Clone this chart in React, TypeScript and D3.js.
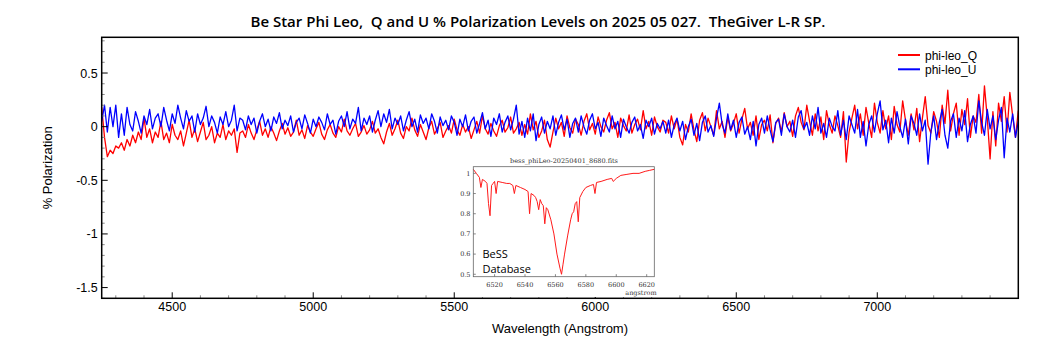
import { useRef, useEffect } from 'react';
import * as d3 from 'd3';

// wavelength grid of the polarization data (Angstrom)
const waveStart = 4250;
const waveStep = 10;

// phi-leo_Q, % polarization, one value per 10 A from 4250
const qValues = [
  0.18, -0.1, -0.28, -0.22, -0.25, -0.18, -0.2, -0.15, -0.22, -0.12, -0.18, -0.08, -0.15, -0.05, -0.12, 0.08, -0.1, -0.02, -0.15, -0.05,
  -0.1, 0.05, -0.12, -0.06, -0.15, 0.02, -0.08, -0.12, -0.04, -0.18, -0.06, 0.06, -0.1, -0.02, -0.14, -0.05, 0.04, -0.12, -0.08, 0.0,
  -0.15, -0.06, -0.1, 0.02, -0.12, -0.04, -0.08, -0.02, -0.24, -0.06,
  -0.04, -0.1, 0.02, -0.06, -0.12, -0.03, 0.05, -0.08, -0.02, -0.1, 0.0, -0.06, -0.13, -0.04, 0.03, -0.07, -0.01, -0.09, -0.05, 0.06,
  -0.08, -0.03, -0.11, 0.01, -0.05, -0.09, -0.02, 0.04, -0.07, -0.12, -0.03, 0.02, -0.06, -0.1, 0.0, -0.05, 0.07, -0.04, -0.08, -0.02,
  0.03, -0.09, -0.05, 0.01, -0.07, -0.03, 0.05, -0.06, -0.02, -0.1,
  -0.16, -0.05, 0.03, -0.08, -0.02, 0.06, -0.06, -0.11, 0.0, -0.04, 0.08, -0.03, -0.09, 0.02, -0.05, -0.12, -0.01, 0.05, -0.07, -0.02,
  0.04, -0.1, -0.04, 0.01, -0.06, 0.07, -0.03, -0.08, 0.02, -0.05, 0.0, -0.11, -0.03, 0.05, -0.06, 0.1, -0.02, -0.07, 0.03, -0.04,
  -0.09, 0.01, 0.06, -0.05, -0.01, 0.09, -0.06, -0.02, 0.04, -0.08,
  0.02, -0.07, 0.12, -0.03, 0.05, -0.1, -0.04, 0.06, -0.12, -0.19, -0.05, 0.08, -0.02, 0.04, -0.09, 0.1, -0.01, -0.06, 0.07, 0.02,
  -0.08, 0.05, 0.12, -0.03, 0.03, -0.07, 0.09, 0.0, -0.05, 0.06, 0.13, -0.02, 0.04, -0.1, 0.08, 0.01, -0.04, 0.11, -0.06, 0.02,
  0.07, -0.03, 0.15, -0.02, 0.05, -0.08, 0.09, 0.0, -0.05, 0.06,
  0.04, -0.06, 0.1, -0.02, 0.07, -0.1, -0.17, 0.02, -0.05, 0.12, -0.03, -0.14, 0.06, 0.13, -0.04, 0.08, 0.0, -0.08, 0.15, -0.02,
  0.05, -0.1, 0.09, -0.04, 0.03, 0.12, -0.06, 0.07, 0.17, -0.02, 0.04, -0.08, 0.1, -0.12, 0.02, 0.06, -0.04, 0.11, -0.15, 0.03,
  0.08, -0.05, 0.13, 0.0, 0.05, -0.09, 0.1, 0.18, 0.04, -0.03,
  0.2, 0.05, -0.08, 0.12, -0.04, 0.09, -0.12, 0.15, 0.02, -0.06, 0.1, 0.01, -0.1, 0.14, -0.33, -0.05, 0.08, 0.2, -0.02, 0.12,
  -0.08, 0.18, 0.03, -0.1, 0.22, 0.04, -0.06, 0.15, -0.02, 0.1, -0.12, 0.19, 0.02, -0.05, 0.24, 0.06, -0.08, 0.12, -0.03, 0.17,
  -0.14, 0.08, 0.28, 0.01, -0.06, 0.14, 0.05, -0.1, 0.2, 0.03,
  0.34, -0.04, 0.12, 0.22, -0.08, 0.16, 0.02, 0.26, -0.1, 0.1, 0.04, 0.3, -0.06, 0.38, 0.08, -0.3, 0.14, -0.18, 0.22, 0.05,
  0.28, -0.05, 0.32, 0.1, -0.1, 0.15,
];

// phi-leo_U, % polarization, same grid
const uValues = [
  0.05, 0.2, -0.05, 0.18, 0.0, 0.2, -0.1, 0.12, -0.08, 0.18, 0.02, -0.04, 0.14, 0.05, -0.06, 0.1, 0.02, 0.16, -0.02, 0.08,
  0.12, 0.0, 0.18, 0.06, -0.04, 0.12, 0.03, 0.2, 0.08, -0.02, 0.15, 0.05, 0.1, -0.05, 0.12, 0.02, 0.08, 0.19, 0.0, 0.1,
  0.04, -0.06, 0.09, 0.02, 0.14, 0.0, 0.06, 0.2, -0.04, 0.08,
  0.06, -0.03, 0.1, 0.02, 0.08, -0.06, 0.05, 0.12, 0.0, 0.07, -0.04, 0.09, 0.03, 0.13, -0.02, 0.06, 0.01, 0.1, -0.05, 0.04,
  0.08, -0.02, 0.11, 0.03, -0.06, 0.07, 0.0, 0.09, 0.04, -0.03, 0.12, 0.02, 0.06, -0.07, 0.05, 0.1, 0.0, 0.14, -0.02, 0.07,
  0.03, 0.18, -0.04, 0.08, 0.02, 0.1, -0.05, 0.06, 0.15, 0.0,
  0.12, 0.04, 0.16, -0.02, 0.08, 0.02, 0.1, -0.04, 0.06, 0.14, 0.0, 0.07, -0.05, 0.11, 0.03, 0.08, -0.02, 0.12, 0.05, -0.06,
  0.09, 0.01, 0.06, -0.03, 0.1, 0.04, -0.08, 0.07, 0.0, 0.11, -0.04, 0.05, 0.09, -0.06, 0.03, 0.13, -0.02, 0.06, -0.09, 0.08,
  0.02, 0.12, -0.05, 0.04, 0.1, -0.03, 0.07, 0.2, -0.07, 0.05,
  -0.1, 0.08, -0.04, 0.12, -0.13, 0.02, 0.09, -0.06, 0.05, -0.02, 0.1, -0.08, 0.04, 0.11, -0.03, 0.07, -0.1, 0.03, 0.08, -0.05,
  0.1, 0.0, -0.07, 0.06, 0.12, -0.02, 0.04, -0.09, 0.08, 0.01, -0.05, 0.1, -0.02, 0.05, -0.1, 0.07, 0.0, -0.06, 0.04, 0.09,
  -0.04, 0.02, -0.11, 0.06, 0.0, 0.08, -0.07, 0.03, -0.02, 0.05,
  -0.06, 0.06, -0.1, 0.02, 0.08, -0.04, 0.05, -0.12, 0.0, 0.07, -0.08, 0.03, -0.13, 0.04, 0.1, -0.05, 0.01, -0.09, 0.08, 0.22,
  0.02, -0.06, 0.12, -0.03, 0.06, -0.1, 0.04, 0.09, -0.07, 0.0, -0.12, 0.05, -0.18, 0.02, 0.08, -0.06, 0.1, -0.03, -0.14, 0.04,
  0.07, -0.08, 0.12, 0.0, -0.05, 0.06, -0.1, 0.09, 0.15, -0.02,
  0.04, -0.08, 0.1, -0.02, 0.18, -0.06, 0.03, -0.1, 0.08, 0.0, -0.04, 0.15, -0.08, 0.06, -0.12, 0.1, 0.02, -0.06, 0.16, -0.1,
  0.05, -0.18, 0.02, 0.1, -0.05, 0.12, 0.24, -0.03, 0.06, -0.15, 0.08, -0.06, 0.14, 0.0, -0.1, 0.07, -0.16, 0.1, 0.03, -0.08,
  0.12, -0.04, 0.06, -0.35, -0.05, 0.1, -0.12, 0.04, 0.16, -0.08,
  -0.2, 0.05, 0.12, -0.1, 0.08, -0.04, 0.15, -0.14, 0.02, 0.1, -0.06, 0.24, 0.04, -0.08, 0.16, -0.02, 0.1, -0.12, 0.06, 0.18,
  -0.29, 0.08, -0.05, 0.12, -0.1, 0.05,
];

const xMajorTicks = [4500, 5000, 5500, 6000, 6500, 7000];
const yMajorTicks = [0.5, 0, -0.5, -1, -1.5];

// BeSS inset: H-alpha profile of phi Leo
const insetWave = [
  6506, 6508, 6510, 6511, 6512, 6514, 6515, 6516, 6517, 6518, 6519, 6520, 6521, 6522, 6525, 6528, 6530, 6532, 6533, 6534,
  6537, 6540, 6542, 6543, 6544, 6546, 6547, 6548, 6549, 6550, 6551, 6552, 6553, 6554, 6555, 6557, 6559, 6561, 6563, 6564,
  6565, 6566, 6568, 6570, 6571, 6572, 6573, 6574, 6575, 6576, 6578, 6580, 6583, 6585, 6586, 6587, 6590, 6594, 6597, 6598,
  6600, 6603, 6607, 6611, 6615, 6619, 6622, 6625,
];
const insetFlux = [
  1.02, 1.0, 0.98, 0.93, 0.97, 0.96, 0.95, 0.85, 0.79, 0.94, 0.95, 0.96, 0.9, 0.96, 0.955, 0.95, 0.95, 0.94, 0.9, 0.94,
  0.93, 0.92, 0.91, 0.8, 0.9, 0.89, 0.88, 0.86, 0.82, 0.87, 0.85, 0.84, 0.75, 0.83, 0.82, 0.77, 0.7, 0.6, 0.53, 0.5,
  0.55, 0.6, 0.69, 0.77, 0.8, 0.81, 0.85, 0.86, 0.76, 0.88, 0.91, 0.93, 0.94, 0.945, 0.9, 0.955, 0.96, 0.97, 0.975, 0.96,
  0.975, 0.99, 0.995, 1.0, 1.0, 1.01, 1.015, 1.02,
];
const insetXTicks = [6520, 6540, 6560, 6580, 6600, 6620];
const insetYTicks = [1, 0.9, 0.8, 0.7, 0.6, 0.5];

const W = 1050;
const H = 350;

export default function App() {
  const svgRef = useRef<SVGSVGElement>(null);

  useEffect(() => {
    if (!svgRef.current) return;
    const svg = d3.select(svgRef.current);
    svg.selectAll('*').remove();

    const left = 101.7, right = 1018.3, top = 37.3, bottom = 298.3;
    const x = d3.scaleLinear().domain([4250, 7500]).range([left, right]);
    const y = d3.scaleLinear().domain([-1.6, 0.833]).range([bottom, top]);
    const sans = 'Liberation Sans, Arial, sans-serif';

    svg.append('rect').attr('width', W).attr('height', H).attr('fill', '#fff');

    // title
    svg.append('text')
      .attr('x', 538).attr('y', 26.5)
      .attr('text-anchor', 'middle')
      .attr('font-family', 'Open Sans, sans-serif')
      .attr('font-weight', 600)
      .attr('font-size', '15px')
      .attr('fill', '#000')
      .style('white-space', 'pre')
      .text('Be Star Phi Leo,  Q and U % Polarization Levels on 2025 05 027.  TheGiver L-R SP.');

    const clip = svg.append('clipPath').attr('id', 'plot-clip');
    clip.append('rect').attr('x', left).attr('y', top).attr('width', right - left).attr('height', bottom - top);

    const line = d3.line<number>()
      .x((_, i) => x(waveStart + i * waveStep))
      .y((d) => y(d));

    const plot = svg.append('g').attr('clip-path', 'url(#plot-clip)');
    plot.append('path').datum(qValues).attr('d', line).attr('fill', 'none')
      .attr('stroke', '#ff0000').attr('stroke-width', 1.3).attr('stroke-linejoin', 'round');
    plot.append('path').datum(uValues).attr('d', line).attr('fill', 'none')
      .attr('stroke', '#0000ff').attr('stroke-width', 1.3).attr('stroke-linejoin', 'round');

    // minor / major ticks (inside)
    const xMinor = d3.range(4300, 7500, 100).filter((v) => v % 500 !== 0);
    svg.selectAll('line.xminor').data(xMinor).join('line')
      .attr('x1', (d) => x(d)).attr('x2', (d) => x(d))
      .attr('y1', bottom).attr('y2', bottom - 3)
      .attr('stroke', '#888').attr('stroke-width', 1);
    svg.selectAll('line.xmajor').data(xMajorTicks).join('line')
      .attr('x1', (d) => x(d)).attr('x2', (d) => x(d))
      .attr('y1', bottom).attr('y2', bottom - 6)
      .attr('stroke', '#000').attr('stroke-width', 1);
    const yMinor = d3.range(-16, 9).map((v) => v / 10).filter((v) => Math.abs((v * 10) % 5) > 0.01);
    svg.selectAll('line.yminor').data(yMinor).join('line')
      .attr('x1', left).attr('x2', left + 3)
      .attr('y1', (d) => y(d)).attr('y2', (d) => y(d))
      .attr('stroke', '#888').attr('stroke-width', 1);
    svg.selectAll('line.ymajor').data(yMajorTicks).join('line')
      .attr('x1', left).attr('x2', left + 6)
      .attr('y1', (d) => y(d)).attr('y2', (d) => y(d))
      .attr('stroke', '#000').attr('stroke-width', 1);

    // frame
    svg.append('rect')
      .attr('x', left).attr('y', top).attr('width', right - left).attr('height', bottom - top)
      .attr('fill', 'none').attr('stroke', '#000').attr('stroke-width', 1.5);

    // tick labels
    svg.selectAll('text.xlab').data(xMajorTicks).join('text')
      .attr('x', (d) => x(d)).attr('y', bottom + 13)
      .attr('text-anchor', 'middle')
      .attr('font-family', sans).attr('font-size', '12.5px').attr('fill', '#000')
      .text((d) => String(d));
    svg.selectAll('text.ylab').data(yMajorTicks).join('text')
      .attr('x', left - 4).attr('y', (d) => y(d) + 4.5)
      .attr('text-anchor', 'end')
      .attr('font-family', sans).attr('font-size', '12.5px').attr('fill', '#000')
      .text((d) => String(d));

    // axis titles
    svg.append('text')
      .attr('x', 560).attr('y', 333)
      .attr('text-anchor', 'middle')
      .attr('font-family', sans).attr('font-size', '13px').attr('fill', '#000')
      .text('Wavelength (Angstrom)');
    svg.append('text')
      .attr('transform', `translate(52,${(top + bottom) / 2}) rotate(-90)`)
      .attr('text-anchor', 'middle')
      .attr('font-family', sans).attr('font-size', '13px').attr('fill', '#000')
      .text('% Polarization');

    // legend
    const legend = [
      { name: 'phi-leo_Q', color: '#ff0000' },
      { name: 'phi-leo_U', color: '#0000ff' },
    ];
    const lg = svg.append('g');
    legend.forEach((d, i) => {
      const ly = 55 + i * 14.3;
      lg.append('line').attr('x1', 898).attr('x2', 920).attr('y1', ly).attr('y2', ly)
        .attr('stroke', d.color).attr('stroke-width', 2);
      lg.append('text').attr('x', 925).attr('y', ly + 4.5)
        .attr('font-family', sans).attr('font-size', '12px').attr('fill', '#000')
        .text(d.name);
    });

    // BeSS inset
    const inset = svg.append('g');
    inset.append('rect').attr('x', 460).attr('y', 154).attr('width', 202).attr('height', 143).attr('fill', '#fff');
    const ix = d3.scaleLinear().domain([6506, 6625]).range([473.3, 654.3]);
    const iy = d3.scaleLinear().domain([0.488, 1.033]).range([276.7, 166.7]);
    const serif = 'DejaVu Serif, Liberation Serif, serif';
    inset.append('text').attr('x', 564).attr('y', 162.5).attr('text-anchor', 'middle')
      .attr('font-family', serif).attr('font-size', '6.5px').attr('fill', '#333')
      .text('bess_phiLeo-20250401_8680.fits');
    inset.selectAll('line.ixt').data(insetXTicks).join('line')
      .attr('x1', (d) => ix(d)).attr('x2', (d) => ix(d))
      .attr('y1', 276.7).attr('y2', 274.2).attr('stroke', '#555').attr('stroke-width', 0.7);
    inset.selectAll('line.iyt').data(insetYTicks).join('line')
      .attr('x1', 473.3).attr('x2', 475.8)
      .attr('y1', (d) => iy(d)).attr('y2', (d) => iy(d)).attr('stroke', '#555').attr('stroke-width', 0.7);
    inset.selectAll('text.ixl').data(insetXTicks).join('text')
      .attr('x', (d) => ix(d)).attr('y', 287).attr('text-anchor', 'middle')
      .attr('font-family', serif).attr('font-size', '6.5px').attr('fill', '#333')
      .text((d) => String(d));
    inset.selectAll('text.iyl').data(insetYTicks).join('text')
      .attr('x', 470.5).attr('y', (d) => iy(d) + 2.3).attr('text-anchor', 'end')
      .attr('font-family', serif).attr('font-size', '6.5px').attr('fill', '#333')
      .text((d) => String(d));
    inset.append('text').attr('x', 641).attr('y', 294.5).attr('text-anchor', 'middle')
      .attr('font-family', serif).attr('font-size', '6.5px').attr('fill', '#333')
      .text('angstrom');
    const iline = d3.line<number>()
      .x((d) => ix(d))
      .y((_, i) => iy(insetFlux[i]));
    inset.append('path').datum(insetWave).attr('d', iline).attr('fill', 'none')
      .attr('stroke', '#ff1a1a').attr('stroke-width', 1).attr('stroke-linejoin', 'round');
    inset.append('rect').attr('x', 473.3).attr('y', 166.7).attr('width', 181).attr('height', 110)
      .attr('fill', 'none').attr('stroke', '#666').attr('stroke-width', 0.8);
    inset.append('text').attr('x', 482.5).attr('y', 257.5)
      .attr('font-family', 'Open Sans, sans-serif').attr('font-size', '11px').attr('fill', '#000')
      .text('BeSS');
    inset.append('text').attr('x', 482.5).attr('y', 272.5)
      .attr('font-family', 'Open Sans, sans-serif').attr('font-size', '11px').attr('fill', '#000')
      .text('Database');
  }, []);

  return (
    <svg
      ref={svgRef}
      width={W}
      height={H}
      viewBox={`0 0 ${W} ${H}`}
      style={{ position: 'absolute', left: 0, top: 0, display: 'block' }}
    />
  );
}
